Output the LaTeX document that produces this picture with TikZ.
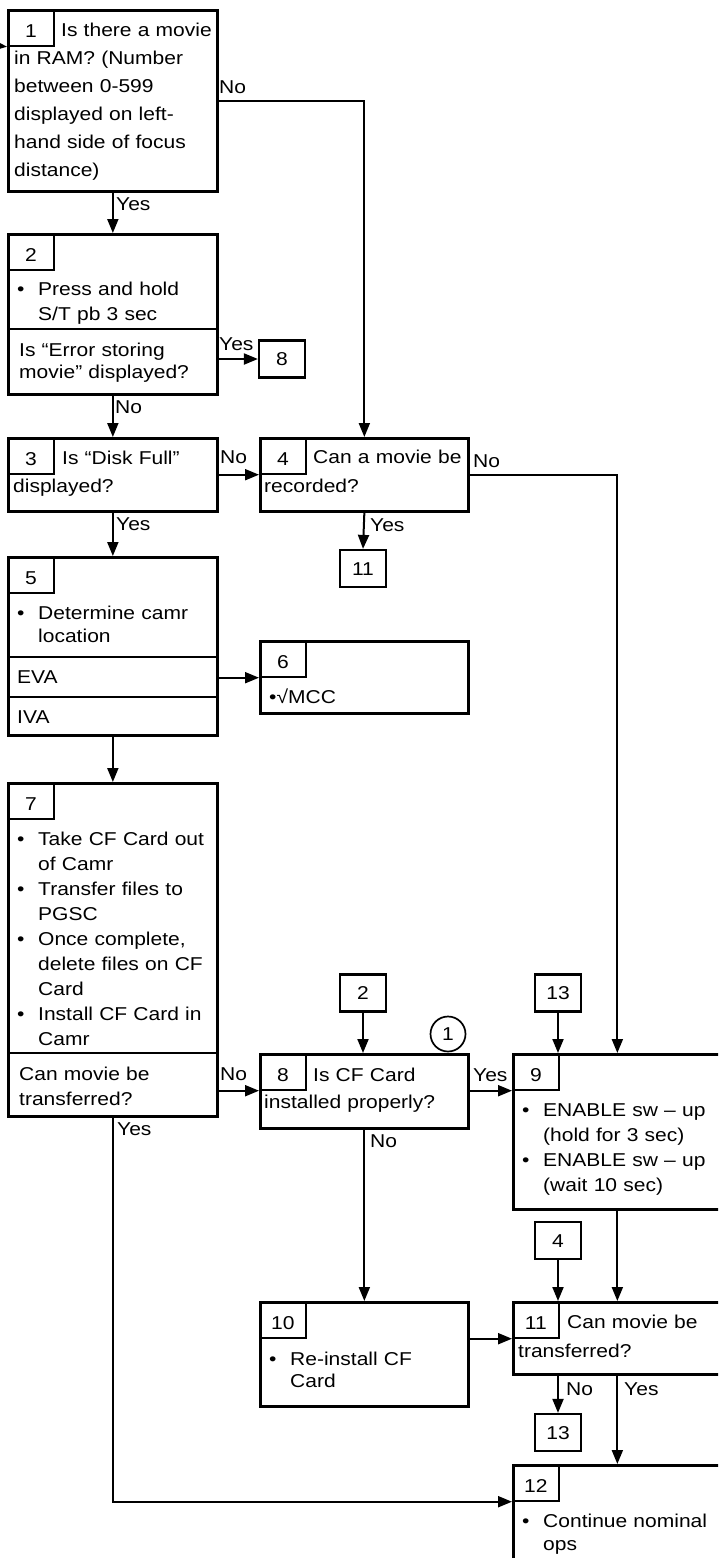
\documentclass[tikz,border=0pt]{standalone}
\usepackage{fontspec}
\setmainfont{Liberation Sans}[FakeStretch=1.13]
\usetikzlibrary{positioning, arrows.meta}
\newcommand{\lh}[1]{\fontsize{18.6}{#1}\selectfont}
\newcommand{\bul}{\makebox[24pt][l]{\hspace{3pt}•}}
\newcommand{\ind}{\hspace*{24pt}}

\begin{document}
\begin{tikzpicture}[x=1pt, y=-1pt, font=\lh{25},
  box/.style={draw, line width=2.7pt, anchor=north west, inner sep=0pt},
  numbox/.style={draw, line width=1.7pt, anchor=north west, minimum width=46pt, minimum height=36pt, inner sep=0pt, text height=19pt, text depth=0pt},
  refbox/.style={draw, line width=2.2pt, minimum width=46pt, minimum height=37pt, inner sep=0pt, text height=13pt, text depth=0pt},
  txt/.style={anchor=base west, inner sep=0pt, text width=205pt, align=left},
  lbl/.style={anchor=base west, inner sep=0pt},
  flow/.style={line width=2pt, -{Triangle[length=14pt, width=11pt]}}]
\useasboundingbox (0,0) rectangle (718,1558);
\clip (0,0) rectangle (718,1558);

\node[box, minimum width=209pt, minimum height=181pt] (b1) at (7,9) {};
\node[box, minimum width=209pt, minimum height=160pt] (b2) at (7,233) {};
\node[box, minimum width=209pt, minimum height=73pt] (b3) at (7,437) {};
\node[box, minimum width=208pt, minimum height=73pt] (b4) at (259,437) {};
\node[box, minimum width=209pt, minimum height=178pt] (b5) at (7,556) {};
\node[box, minimum width=208pt, minimum height=72pt] (b6) at (259,640) {};
\node[box, minimum width=209pt, minimum height=333pt] (b7) at (7,782) {};
\node[box, minimum width=208pt, minimum height=74pt] (b8) at (259,1053) {};
\node[box, minimum width=208pt, minimum height=155pt] (b9) at (512,1053) {};
\node[box, minimum width=208pt, minimum height=104pt] (b10) at (259,1301) {};
\node[box, minimum width=208pt, minimum height=72pt] (b11) at (512,1301) {};
\node[box, minimum width=208pt, minimum height=140pt] (b12) at (512,1464) {};

\foreach \i in {1,...,12}
  \node[numbox] (n\i) at (b\i.north west) {\i};

\draw[line width=2.7pt] (b2.west |- 0,329) -- (b2.east |- 0,329);
\draw[line width=2.7pt] (b5.west |- 0,657) -- (b5.east |- 0,657);
\draw[line width=2.7pt] (b5.west |- 0,697) -- (b5.east |- 0,697);
\draw[line width=2.7pt] (b7.west |- 0,1053) -- (b7.east |- 0,1053);

\node[refbox] (r8) at (282,359) {8};
\node[refbox] (r11) at (363,568.5) {11};
\node[refbox] (r2) at (363,993) {2};
\node[refbox] (r13a) at (558,993) {13};
\node[refbox] (r4) at (558,1240.5) {4};
\node[refbox] (r13b) at (558,1432.5) {13};
\node[draw, circle, line width=1.7pt, minimum size=35pt, inner sep=0pt, text height=13pt, text depth=0pt] (c1) at (448,1034) {1};

\node[txt, font=\lh{28}] (t1) at (14,36.7) {\hspace*{47pt}Is there a movie\\in RAM? (Number\\between 0-599\\displayed on left-\\hand side of focus\\distance)};
\node[txt, font=\lh{24.3}] (t2) at (14,295.7) {\bul Press and hold\\\ind S/T pb 3 sec};
\node[txt, font=\lh{22.3}] (t2q) at (19,356) {Is “Error storing\\movie” displayed?};
\node[txt, font=\lh{28}] (t3) at (13,464) {\hspace*{49pt}Is “Disk Full”\\displayed?};
\node[txt, font=\lh{29}] (t4) at (264,463) {\hspace*{49pt}Can a movie be\\recorded?};
\node[txt, font=\lh{23}] (t5) at (14,619) {\bul Determine camr\\\ind location};
\node[lbl] (t5a) at (17,683) {EVA};
\node[lbl] (t5b) at (17,723) {IVA};
\node[lbl] (t6) at (266,703) {\hspace{3pt}•√MCC};
\node[txt] (t7) at (14,845) {\bul Take CF Card out\\\ind of Camr\\\bul Transfer files to\\\ind PGSC\\\bul Once complete,\\\ind delete files on CF\\\ind Card\\\bul Install CF Card in\\\ind Camr};
\node[txt] (t7q) at (19,1080) {Can movie be\\transferred?};
\node[txt, font=\lh{27}] (t8) at (264,1081) {\hspace*{49pt}Is CF Card\\installed properly?};
\node[txt, font=\lh{25.3}] (t9) at (519,1116) {\bul ENABLE sw – up\\\ind (hold for 3 sec)\\\bul ENABLE sw – up\\\ind (wait 10 sec)};
\node[txt, font=\lh{22}] (t10) at (266,1365) {\bul Re-install CF\\\ind Card};
\node[txt, font=\lh{29}] (t11) at (518,1328) {\hspace*{49pt}Can movie be\\transferred?};
\node[txt, font=\lh{23}] (t12) at (519,1527) {\bul Continue nominal\\\ind ops};

\node[lbl] (l1n) at (219,93) {No};
\node[lbl] (l1y) at (116,210) {Yes};
\node[lbl] (l2y) at (219,350.7) {Yes};
\node[lbl] (l2n) at (115,413) {No};
\node[lbl] (l3n) at (220,463.5) {No};
\node[lbl] (l3y) at (116,530.7) {Yes};
\node[lbl] (l4n) at (473,467) {No};
\node[lbl] (l4y) at (370,531) {Yes};
\node[lbl] (l7n) at (220,1080) {No};
\node[lbl] (l7y) at (117,1135) {Yes};
\node[lbl] (l8y) at (473,1081) {Yes};
\node[lbl] (l8n) at (370,1147) {No};
\node[lbl] (l11n) at (566,1395) {No};
\node[lbl] (l11y) at (624,1395) {Yes};

\coordinate (in1) at (-10,45);
\draw[flow] (in1) -- (n1.south west);
\draw[flow] (b1.south) -- (b2.north);
\draw[flow] (b1.east) -| (b4.north);
\draw[flow] (b2.east |- r8.west) -- (r8.west);
\draw[flow] (b2.south) -- (b3.north);
\draw[flow] (b3.east |- n4.south west) -- (n4.south west);
\draw[flow] (b3.south) -- (b5.north);
\draw[flow] (b4.south) -- (r11.north);
\draw[flow] (b4.east |- n4.south) -| (b9.north);
\draw[flow] (b5.east |- n6.south west) -- (n6.south west);
\draw[flow] (b5.south) -- (b7.north);
\draw[flow] (b7.east |- n8.south west) -- (n8.south west);
\draw[flow] (b7.south) |- (n12.south west);
\draw[flow] (r2.south) -- (r2.south |- b8.north);
\draw[flow] (r13a.south) -- (r13a.south |- b9.north);
\draw[flow] (b8.east |- n9.south west) -- (n9.south west);
\draw[flow] (b8.south) -- (b10.north);
\draw[flow] (b9.south) -- (b11.north);
\draw[flow] (r4.south) -- (r4.south |- b11.north);
\draw[flow] (b10.east |- n11.south west) -- (n11.south west);
\draw[flow] (b11.south -| r13b.north) -- (r13b.north);
\draw[flow] (b11.south) -- (b12.north);
\end{tikzpicture}
\end{document}
